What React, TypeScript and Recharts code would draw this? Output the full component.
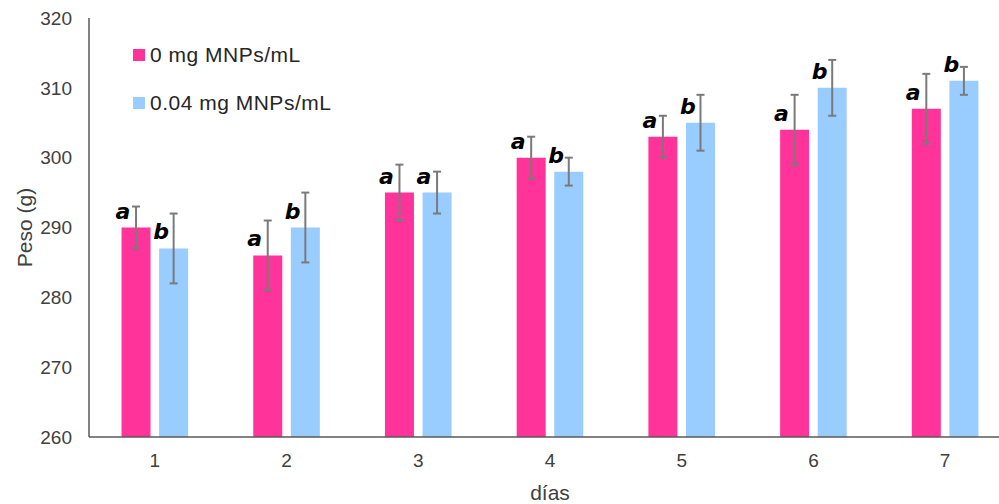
import React from 'react';
import { BarChart, Bar, XAxis, YAxis, ErrorBar, LabelList, Legend } from 'recharts';

const days = ['1', '2', '3', '4', '5', '6', '7'];
const control = [290, 286, 295, 300, 303, 304, 307];
const controlErr = [3, 5, 4, 3, 3, 5, 5];
const treated = [287, 290, 295, 298, 305, 310, 311];
const treatedErr = [5, 5, 3, 2, 4, 4, 2];
const controlLetters = ['a', 'a', 'a', 'a', 'a', 'a', 'a'];
const treatedLetters = ['b', 'b', 'a', 'b', 'b', 'b', 'b'];
const yTicks = [260, 270, 280, 290, 300, 310, 320];
const seriesNames = ['0 mg MNPs/mL', '0.04 mg MNPs/mL'];
const xTitle = 'días';
const yTitle = 'Peso (g)';

const data = days.map((d, i) => ({
  day: d,
  v0: control[i],
  e0: controlErr[i],
  l0: controlLetters[i],
  v1: treated[i],
  e1: treatedErr[i],
  l1: treatedLetters[i],
}));

const PINK = '#FF3399';
const BLUE = '#99CCFF';
const AXIS = '#595959';
const TEXT = '#404040';
const FONT = '"Liberation Sans", Arial, sans-serif';

const renderLetter = (props: any) => {
  const x = Number(props.x);
  const y = Number(props.y);
  return (
    <text
      x={x - 6}
      y={y - 9}
      textAnchor="start"
      fontFamily='"DejaVu Sans", sans-serif'
      fontWeight="bold"
      fontStyle="italic"
      fontSize={22}
      fill="#000"
    >
      {props.value}
    </text>
  );
};

const renderYLabel = (props: any) => {
  const vb = props.viewBox || { x: 0, y: 18, width: 89, height: 419 };
  const cx = 24;
  const cy = vb.y + vb.height / 2;
  return (
    <text
      x={cx}
      y={cy}
      transform={`rotate(-90 ${cx} ${cy})`}
      textAnchor="middle"
      dominantBaseline="central"
      fontSize={21}
      fill={TEXT}
      fontFamily={FONT}
    >
      {yTitle}
    </text>
  );
};

const renderLegend = (props: any) => {
  const payload = props.payload || [];
  return (
    <div style={{ fontFamily: FONT }}>
      {payload.map((p: any, i: number) => (
        <div
          key={i}
          style={{
            display: 'flex',
            alignItems: 'center',
            height: 24,
            marginBottom: i === 0 ? 24 : 0,
          }}
        >
          <div style={{ width: 12, height: 12, background: p.color, marginRight: 5 }} />
          <span style={{ fontSize: 21, letterSpacing: 0.5, color: '#262626', whiteSpace: 'nowrap' }}>{p.value}</span>
        </div>
      ))}
    </div>
  );
};

export default function App() {
  return (
    <div
      style={{
        position: 'absolute',
        left: 0,
        top: 0,
        width: 999,
        height: 504,
        overflow: 'hidden',
        background: '#fff',
      }}
    >
      <BarChart
        width={1015}
        height={504}
        data={data}
        margin={{ top: 18, right: 4, left: 0, bottom: 0 }}
        barCategoryGap="24.7%"
        barGap={8.6}
        style={{ fontFamily: FONT }}
      >
        <XAxis
          dataKey="day"
          height={67}
          axisLine={{ stroke: AXIS, strokeWidth: 1.5 }}
          tickLine={false}
          tickMargin={11}
          tick={{ fill: TEXT, fontSize: 19 }}
          label={{ value: xTitle, position: 'insideBottom', offset: 4, fill: TEXT, fontSize: 21 }}
        />
        <YAxis
          width={89}
          domain={[260, 320]}
          ticks={yTicks}
          interval={0}
          axisLine={{ stroke: AXIS, strokeWidth: 1.5 }}
          tickLine={false}
          tickMargin={11}
          tick={{ fill: TEXT, fontSize: 19 }}
          label={renderYLabel}
        />
        <Legend
          layout="vertical"
          align="center"
          verticalAlign="middle"
          content={renderLegend}
          wrapperStyle={{ position: 'absolute', left: 133, top: 43, width: 300, height: 80 }}
        />
        <Bar dataKey="v0" name={seriesNames[0]} fill={PINK} isAnimationActive={false}>
          <ErrorBar dataKey="e0" width={4} strokeWidth={2} stroke="#7a7a7a" direction="y" />
          <LabelList dataKey="l0" content={renderLetter} />
        </Bar>
        <Bar dataKey="v1" name={seriesNames[1]} fill={BLUE} isAnimationActive={false}>
          <ErrorBar dataKey="e1" width={4} strokeWidth={2} stroke="#7a7a7a" direction="y" />
          <LabelList dataKey="l1" content={renderLetter} />
        </Bar>
      </BarChart>
    </div>
  );
}
